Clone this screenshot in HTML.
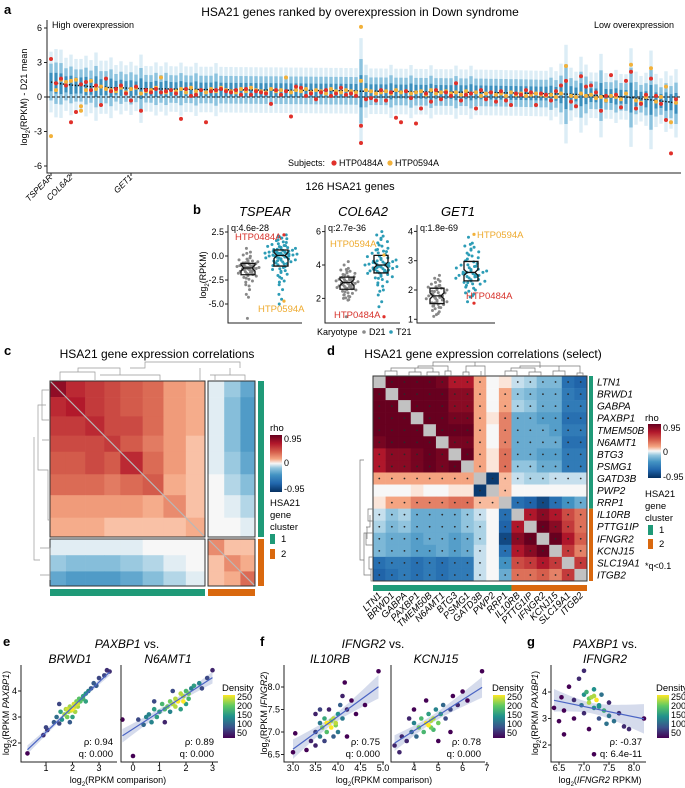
<!DOCTYPE html>
<html><head><meta charset="utf-8">
<style>
html,body{margin:0;padding:0;background:#fff;}
svg{display:block;font-family:"Liberation Sans",sans-serif;}
.it{font-style:italic}
</style></head>
<body>
<svg id="fig" width="685" height="788" viewBox="0 0 685 788" xmlns="http://www.w3.org/2000/svg">
<defs>
<linearGradient id="rdbu" x1="0" y1="0" x2="0" y2="1">
<stop offset="0" stop-color="#67001f"/><stop offset="0.15" stop-color="#b2182b"/><stop offset="0.3" stop-color="#d6604d"/><stop offset="0.42" stop-color="#f4a582"/><stop offset="0.5" stop-color="#f7f7f7"/><stop offset="0.58" stop-color="#92c5de"/><stop offset="0.7" stop-color="#4393c3"/><stop offset="0.85" stop-color="#2166ac"/><stop offset="1" stop-color="#053061"/>
</linearGradient>
<linearGradient id="vir" x1="0" y1="0" x2="0" y2="1">
<stop offset="0" stop-color="#fde725"/><stop offset="0.25" stop-color="#5ec962"/><stop offset="0.5" stop-color="#21918c"/><stop offset="0.75" stop-color="#3b528b"/><stop offset="1" stop-color="#440154"/>
</linearGradient>
<clipPath id="clipA"><rect x="47" y="20" width="634" height="153"/></clipPath>
</defs>

<!-- Panel a -->
<g>
<text x="4" y="14" font-size="13" font-weight="bold">a</text>
<text x="360" y="16" font-size="12" text-anchor="middle">HSA21 genes ranked by overexpression in Down syndrome</text>
<text x="52" y="28" font-size="9">High overexpression</text>
<text x="674" y="28" font-size="9" text-anchor="end">Low overexpression</text>
<text transform="translate(27,97) rotate(-90)" font-size="9" text-anchor="middle">log<tspan baseline-shift="sub" font-size="6">2</tspan>(RPKM) - D21 mean</text>
<g id="a-marks" clip-path="url(#clipA)"></g>
<g id="a-axes"></g>
<text x="288" y="166" font-size="9">Subjects:</text>
<circle cx="334" cy="163" r="2.6" fill="#e0302a"/>
<text x="339" y="166" font-size="9">HTP0484A</text>
<circle cx="390" cy="163" r="2.6" fill="#f2b13a"/>
<text x="395" y="166" font-size="9">HTP0594A</text>
<text x="350" y="190" font-size="11" text-anchor="middle">126 HSA21 genes</text>
<text transform="translate(53,178) rotate(-45)" font-size="8.5" class="it" text-anchor="end">TSPEAR</text>
<text transform="translate(73,178) rotate(-45)" font-size="8.5" class="it" text-anchor="end">COL6A2</text>
<text transform="translate(133,178) rotate(-45)" font-size="8.5" class="it" text-anchor="end">GET1</text>
</g>

<!-- Panel b -->
<g>
<text x="193" y="214" font-size="13" font-weight="bold">b</text>
<text x="265" y="216" font-size="13" class="it" text-anchor="middle">TSPEAR</text>
<text x="363" y="216" font-size="13" class="it" text-anchor="middle">COL6A2</text>
<text x="458" y="216" font-size="13" class="it" text-anchor="middle">GET1</text>
<text transform="translate(206,275) rotate(-90)" font-size="9" text-anchor="middle">log<tspan baseline-shift="sub" font-size="6">2</tspan>(RPKM)</text>
<g id="b-marks"></g>
<text x="317" y="335" font-size="9">Karyotype</text>
<circle cx="364" cy="332" r="1.8" fill="#8a8a8a"/>
<text x="369" y="335" font-size="9">D21</text>
<circle cx="391" cy="332" r="1.8" fill="#2c9cb6"/>
<text x="396" y="335" font-size="9">T21</text>
</g>

<!-- Panel c -->
<g>
<text x="4" y="355" font-size="13" font-weight="bold">c</text>
<text x="157" y="358" font-size="12" text-anchor="middle">HSA21 gene expression correlations</text>
<g id="c-marks"></g>
<g fill="none" stroke="#999" stroke-width="0.7">
<path d="M60 381V372H95V381M78 372V368H120V375M100 375H160V381M130 368H145V362H240V368M200 368H200V381M230 368V375H245V381M210 375H230M215 375V381"/>
<path d="M50 390H42V420H50M46 405H38V470H46M42 440H50M42 470H48V520H50M34 437H34V560H40M40 548H50V580M40 575H50"/>
</g>
<text x="270" y="431" font-size="9.5">rho</text>
<rect x="270" y="435" width="12" height="57" fill="url(#rdbu)"/>
<text x="284" y="442" font-size="9">0.95</text>
<text x="284" y="466" font-size="9">0</text>
<text x="284" y="492" font-size="9">-0.95</text>
<text x="270" y="506" font-size="9.5">HSA21</text>
<text x="270" y="518" font-size="9.5">gene</text>
<text x="270" y="530" font-size="9.5">cluster</text>
<rect x="270" y="534" width="5" height="10" fill="#1f9a78"/>
<text x="281" y="542" font-size="9.5">1</text>
<rect x="270" y="549" width="5" height="10" fill="#d9680e"/>
<text x="281" y="557" font-size="9.5">2</text>
</g>

<!-- Panel d -->
<g>
<text x="327" y="355" font-size="13" font-weight="bold">d</text>
<text x="483" y="358" font-size="12" text-anchor="middle">HSA21 gene expression correlations (select)</text>
<g id="d-marks"></g>
<g fill="none" stroke="#777" stroke-width="0.7">
<path d="M385 376V371H397V376M391 371V368H415V371M409 376V372H421V376M415 372V371M427 376V372H439V376M433 372V368H403V368M445 376V371H451V376M448 371V366H418V368M433 366V362H475V366M463 376V372H469V376M466 372V366H485V376M481 376V371M475 362H540V368M505 376V371H517V376M529 376V372H541V376M511 371V368H535V372M553 376V371H565V376M577 376V373H583V376M559 371V366H580V373M520 368V366H570"/>
<path d="M373 509H368V521H373M373 533H366V545H373M370 515V527H366M367 527V539M373 557H369V569H373M373 581H371V569M371 575H364V533H366M364 560H360V460H364"/>
</g>
<text x="645" y="421" font-size="9.5">rho</text>
<rect x="648" y="424" width="13" height="54" fill="url(#rdbu)"/>
<text x="663" y="431" font-size="9">0.95</text>
<text x="663" y="455" font-size="9">0</text>
<text x="663" y="480" font-size="9">-0.95</text>
<text x="645" y="497" font-size="9.5">HSA21</text>
<text x="645" y="509" font-size="9.5">gene</text>
<text x="645" y="521" font-size="9.5">cluster</text>
<rect x="648" y="525" width="5" height="10" fill="#1f9a78"/>
<text x="659" y="533" font-size="9.5">1</text>
<rect x="648" y="539" width="5" height="10" fill="#d9680e"/>
<text x="659" y="547" font-size="9.5">2</text>
<text x="645" y="569" font-size="9">*q&lt;0.1</text>
</g>

<!-- Panels e-g -->
<g>
<text x="3" y="646" font-size="13" font-weight="bold">e</text>
<text x="127" y="648" font-size="12" text-anchor="middle"><tspan class="it">PAXBP1</tspan> vs.</text>
<text x="70" y="663" font-size="12" class="it" text-anchor="middle">BRWD1</text>
<text x="168" y="663" font-size="12" class="it" text-anchor="middle">N6AMT1</text>
<text transform="translate(9,713) rotate(-90)" font-size="9" text-anchor="middle">log<tspan baseline-shift="sub" font-size="6">2</tspan>(RPKM <tspan class="it">PAXBP1</tspan>)</text>
<text x="118" y="783" font-size="9" text-anchor="middle">log<tspan baseline-shift="sub" font-size="6">2</tspan>(RPKM comparison)</text>
</g>
<g>
<text x="260" y="646" font-size="13" font-weight="bold">f</text>
<text x="373" y="648" font-size="12" text-anchor="middle"><tspan class="it">IFNGR2</tspan> vs.</text>
<text x="330" y="663" font-size="12" class="it" text-anchor="middle">IL10RB</text>
<text x="436" y="663" font-size="12" class="it" text-anchor="middle">KCNJ15</text>
<text transform="translate(267,713) rotate(-90)" font-size="9" text-anchor="middle">log<tspan baseline-shift="sub" font-size="6">2</tspan>(RPKM <tspan class="it">IFNGR2</tspan>)</text>
<text x="384" y="783" font-size="9" text-anchor="middle">log<tspan baseline-shift="sub" font-size="6">2</tspan>(RPKM comparison)</text>
</g>
<g>
<text x="527" y="646" font-size="13" font-weight="bold">g</text>
<text x="605" y="648" font-size="12" text-anchor="middle"><tspan class="it">PAXBP1</tspan> vs.</text>
<text x="605" y="663" font-size="12" class="it" text-anchor="middle">IFNGR2</text>
<text transform="translate(538,713) rotate(-90)" font-size="9" text-anchor="middle">log<tspan baseline-shift="sub" font-size="6">2</tspan>(RPKM <tspan class="it">PAXBP1</tspan>)</text>
<text x="600" y="783" font-size="9" text-anchor="middle">log<tspan baseline-shift="sub" font-size="6">2</tspan>(<tspan class="it">IFNGR2</tspan> RPKM)</text>
</g>
<g id="efg-marks"></g>
</svg>

<script>
// ---------- Panel a data ----------
const geneMedian = [1.3,1.2,1.15,1.1,1.05,1.0,1.0,0.95,0.9,0.9,
.85,.85,.8,.8,.8,.78,.75,.75,.72,.72,.7,.7,.7,.7,.7,.68,.68,.68,.66,.66,
.65,.65,.65,.64,.64,.63,.63,.62,.62,.62,.61,.61,.6,.6,.6,.6,.59,.59,.58,.58,
.58,.57,.57,.56,.56,.56,.55,.55,.55,.54,.54,.53,.5,.5,.5,.5,.5,.49,.49,.48,
.48,.47,.47,.46,.46,.45,.45,.44,.44,.43,.43,.42,.42,.41,.41,.4,.4,.39,.38,.38,
.37,.36,.35,.35,.34,.33,.32,.31,.3,.3,.28,.27,.26,.25,.24,.22,.2,.18,.16,.14,
.12,.1,.08,.05,.02,0,-.05,-.1,-.15,-.2,-.25,-.3,-.35,-.4,-.45,-.55];
const geneSpread = [.8,.9,.9,.7,.8,.7,.7,.8,.7,.9,.7,.7,.8,.6,.7,.6,.7,.6,.9,.6,
.6,.7,.6,.7,.6,.6,.7,.6,.6,.7,.6,.6,.6,.7,.6,.6,.6,.6,.6,.6,.6,.6,.6,.6,.6,.6,.6,.6,.6,.6,
.6,.6,.6,.6,.6,.6,.6,.6,.6,.6,.6,.6,1.4,.7,.6,.6,.6,.6,.7,.6,.6,.6,.7,.6,.6,.6,.7,.6,.6,.6,
.6,.7,.6,.6,.7,.6,.6,.6,.6,.6,.6,.6,.6,.6,.6,.6,.6,.6,.6,.6,.7,.6,.8,1.3,.7,.6,1.0,.8,.6,.6,
1.1,.6,.6,.7,.6,.6,1.3,.7,.6,.7,1.3,.7,.6,.8,.7,.9];
const subjRed = [3.3,1.2,1.6,1.0,-2.2,-1.3,1.1,1.3,0.6,1.0,-0.7,1.6,0.5,0.7,1.0,0.3,-0.3,0.9,-1.2,0.6,
0.4,0.7,0.4,0.5,0.6,0.3,-1.9,0.7,0.1,0.2,0.6,-2.2,0.5,0.6,0.7,0.5,0.4,0.6,0.2,0.7,
0.2,0.5,0.4,0.3,-0.6,0.6,0.2,0.5,-1.7,0.9,0.8,0.1,0.3,-0.2,0.4,0.6,0.1,0.3,0.8,0.2,
0.3,0.1,-2.5,-0.2,-0.1,-0.3,0.6,-0.3,0.4,-1.8,-2.2,0.5,-0.1,-2.3,-1.0,0.3,-0.4,0.6,-0.2,0.4,
0.1,1.2,-0.3,0.2,0.3,-1.0,0.6,-0.2,0.4,-0.4,0.5,-0.3,-0.7,0.3,0.2,0.6,0.4,-0.7,0.3,0.2,
-0.3,0.5,1.0,1.4,-0.4,-0.8,1.8,0.9,1.0,0.4,-1.2,0.1,1.9,0.2,-0.9,1.4,2.2,-1.0,-0.6,0.2,
1.6,0.1,-0.6,-2.0,-4.9,-0.2];
const subjYellow = [-3.4,0.6,1.5,1.3,1.4,1.5,-1.2,0.6,1.4,0.7,0.9,0.7,0.6,0.5,0.8,0.4,0.7,0.8,0.3,0.5,
0.6,0.8,1.7,0.4,0.6,0.5,0.7,0.4,0.8,0.5,0.6,0.4,0.7,0.5,0.8,0.6,0.5,0.4,0.7,0.5,
0.8,0.6,0.5,0.4,0.7,0.5,0.6,1.7,0.4,0.6,0.5,0.7,0.4,0.6,0.5,0.3,0.7,0.5,0.4,0.6,
0.5,0.4,6.1,0.6,0.5,0.3,0.4,0.5,0.3,0.6,0.4,0.5,0.3,0.4,0.5,0.2,0.6,0.3,0.4,0.5,
0.3,0.4,0.2,0.5,0.3,0.4,0.1,0.3,0.4,0.2,0.3,0.1,0.4,0.2,0.3,0.1,0.2,0.3,0.2,0.1,
0.2,0.0,0.3,2.7,0.1,0.0,0.3,0.1,0.2,-0.1,0.0,-0.3,0.1,0.0,-0.2,0.3,2.8,-0.3,-0.5,0.0,
2.5,-0.4,0.0,0.9,-2.2,-0.5];
const extraRedIdx = [62]; const extraRedVal = [-4.0];
const extraYellowIdx = [62,6]; const extraYellowVal = [1.4,-0.8];
const aTicks = [-6,-3,0,3,6];

// ---------- Panel b data ----------
const tspearD21 = [-6.5,-4.3,-4.0,-3.5,-3.0,-2.6,-2.3,-2.1,-1.9,-1.8,-1.7,-1.6,-1.5,-1.4,-1.3,-1.3,-1.2,-1.2,-1.1,-1.1,-1.0,-1.0,-0.9,-0.8,-0.7,-0.6,-0.5,-0.4,-0.2,0.1,0.4,0.8];
const tspearT21 = [-5.0,-4.5,-4.0,-3.5,-3.0,-2.6,-2.2,-1.9,-1.6,-1.4,-1.2,-1.0,-0.8,-0.7,-0.6,-0.5,-0.4,-0.3,-0.2,-0.1,0,0,0.1,0.1,0.2,0.2,0.3,0.3,0.4,0.4,0.5,0.5,0.6,0.7,0.8,0.9,1.0,1.1,1.2,1.4,1.6,1.8,2.0,2.2];
const col6a2D21 = [0.9,1.9,2.0,2.1,2.2,2.3,2.4,2.5,2.6,2.65,2.7,2.75,2.8,2.85,2.9,2.95,3.0,3.0,3.05,3.1,3.15,3.2,3.25,3.3,3.4,3.5,3.6,3.7,3.8,4.0,4.2];
const col6a2T21 = [1.5,1.8,2.2,2.5,2.8,3.0,3.2,3.3,3.4,3.5,3.6,3.65,3.7,3.75,3.8,3.85,3.9,3.95,4.0,4.0,4.05,4.1,4.15,4.2,4.25,4.3,4.4,4.5,4.6,4.7,4.8,4.9,5.0,5.2,5.4,5.6,5.8,6.0];
const get1D21 = [1.1,1.2,1.3,1.4,1.45,1.5,1.55,1.6,1.65,1.7,1.75,1.8,1.8,1.85,1.9,1.95,2.0,2.05,2.1,2.15,2.2,2.3,2.4,2.5];
const get1T21 = [1.6,1.8,1.9,2.0,2.1,2.2,2.25,2.3,2.35,2.4,2.45,2.5,2.5,2.55,2.6,2.6,2.65,2.7,2.75,2.8,2.85,2.9,3.0,3.1,3.2,3.3,3.4,3.5,3.6,3.8];
const tspearTicks = [2.5,0.0,-2.5,-5.0]; const col6a2Ticks=[6,4,2]; const get1Ticks=[4,3,2,1];
const bQvals = ["q:4.6e-28","q:2.7e-36","q:1.8e-69"];
const bRed = [2.2, 0.9, 1.55]; const bYellow = [-4.7, 4.6, 3.9];

// ---------- Panel c data (block-averaged correlations) ----------
const cBlockSizes = [10,12,12,10,14,13,14,12,10,10,9];
const cBlockRho = [
[.75,.6,.55,.5,.45,.4,.25,.2,-.05,-.2,-.35],
[.6,.65,.55,.5,.45,.4,.25,.2,-.05,-.25,-.4],
[.55,.55,.6,.5,.5,.4,.25,.2,-.05,-.25,-.4],
[.5,.5,.5,.55,.45,.35,.25,.15,-.05,-.25,-.4],
[.45,.45,.5,.45,.6,.4,.25,.15,-.05,-.2,-.35],
[.4,.4,.4,.35,.4,.45,.2,.15,0,-.15,-.25],
[.25,.25,.25,.25,.25,.2,.3,.15,0,-.05,-.15],
[.2,.2,.2,.15,.15,.15,.15,.2,0,0,-.05],
[-.05,-.05,-.05,-.05,-.05,0,0,0,.3,.15,.15],
[-.2,-.25,-.25,-.25,-.2,-.15,-.05,0,.15,.3,.2],
[-.35,-.4,-.4,-.4,-.35,-.25,-.15,-.05,.15,.2,.4]];

// ---------- Panel d data ----------
const dGenes = ["LTN1","BRWD1","GABPA","PAXBP1","TMEM50B","N6AMT1","BTG3","PSMG1","GATD3B","PWP2","RRP1","IL10RB","PTTG1IP","IFNGR2","KCNJ15","SLC19A1","ITGB2"];
const dCluster = [1,1,1,1,1,1,1,1,1,1,1,2,2,2,2,2,2];
const dUpper = [
[.85,.85,.8,.8,.75,.6,.6,.2,0,.05,-.1,-.15,-.25,-.25,-.55,-.6],
[.9,.9,.85,.85,.7,.7,.2,0,.2,-.2,-.25,-.3,-.3,-.5,-.55],
[.9,.85,.85,.7,.7,.2,0,.2,-.15,-.2,-.3,-.3,-.5,-.5],
[.85,.9,.75,.75,.2,.05,.3,-.3,-.3,-.35,-.35,-.55,-.55],
[.85,.8,.8,.2,0,.3,-.3,-.3,-.3,-.35,-.5,-.5],
[.75,.75,.2,0,.3,-.3,-.3,-.3,-.3,-.55,-.55],
[.85,.2,.05,.35,-.3,-.3,-.35,-.35,-.5,-.5],
[.2,.05,.35,-.2,-.2,-.3,-.3,-.5,-.5],
[-.75,.15,-.1,-.15,-.15,-.1,-.1,-.1],
[.15,0,0,0,0,0,0],
[-.55,-.6,-.7,-.55,-.4,-.3],
[.6,.7,.6,.45,.35],
[.8,.7,.5,.35],
[.8,.6,.4],
[.5,.3],
[.5]];

// ---------- Panels e-g data ----------
const eBrwd1 = [[0.3,1.6],[0.9,2.3],[1.0,2.6],[1.05,2.5],[1.3,2.8],[1.4,3.0],[1.5,2.75],[1.55,3.2],[1.6,2.9],[1.7,3.1],[1.75,3.3],[1.8,3.0],[1.85,3.2],[1.9,3.4],[1.95,3.25],[2.0,3.3],[2.05,3.5],[2.1,3.4],[2.15,3.6],[2.2,3.5],[2.25,3.7],[2.3,3.6],[2.4,3.8],[2.5,3.9],[2.6,4.0],[2.7,4.1],[2.8,4.3],[2.9,4.2],[3.0,4.5],[3.2,4.6],[3.3,4.8],[3.4,4.75],[1.5,3.5],[2.0,3.0],[2.5,3.6],[1.9,2.8],[2.2,3.4],[1.8,3.3],[2.4,3.7],[2.1,3.2]];
const eN6amt1 = [[-0.4,2.9],[0.0,1.5],[0.2,2.9],[0.4,2.7],[0.5,3.0],[0.6,3.1],[0.7,2.8],[0.8,3.3],[0.9,3.0],[1.0,3.2],[1.1,3.5],[1.2,3.3],[1.3,3.4],[1.4,3.6],[1.5,3.5],[1.6,3.7],[1.7,3.6],[1.8,3.9],[1.9,3.8],[2.0,4.0],[2.1,3.9],[2.2,4.1],[2.3,4.2],[2.5,4.3],[2.6,4.1],[2.8,4.5],[3.0,4.8],[1.2,2.8],[1.5,4.0],[2.0,3.5],[0.8,3.6],[1.8,3.3],[1.6,3.4],[1.9,3.6],[2.1,3.7],[1.4,3.2]];
const fIl10rb = [[3.0,6.55],[3.05,6.97],[3.3,6.6],[3.4,6.8],[3.5,7.0],[3.5,6.7],[3.6,7.2],[3.6,6.9],[3.65,7.1],[3.7,7.3],[3.7,6.8],[3.75,7.0],[3.8,7.2],[3.8,7.5],[3.85,7.1],[3.9,7.3],[3.9,6.9],[3.95,7.2],[4.0,7.4],[4.0,7.0],[4.05,7.6],[4.1,7.3],[4.1,7.8],[4.15,8.1],[4.2,7.5],[4.3,7.7],[4.4,7.4],[4.6,7.6],[4.9,8.35],[3.6,7.5],[4.2,6.9],[3.5,7.4],[3.85,7.25],[3.95,7.15],[3.75,7.2]];
const fKcnj15 = [[3.2,6.7],[3.4,6.55],[3.5,6.9],[3.7,6.8],[3.9,7.0],[4.0,7.2],[4.1,6.9],[4.2,7.1],[4.3,7.3],[4.4,7.0],[4.5,7.2],[4.6,7.4],[4.7,7.1],[4.8,7.3],[4.9,7.5],[5.0,7.2],[5.1,7.4],[5.2,7.6],[5.3,7.3],[5.5,7.5],[5.6,7.8],[5.8,7.6],[6.0,7.9],[6.2,7.7],[6.8,8.35],[4.5,7.7],[5.0,6.8],[4.0,7.5],[5.5,7.0],[3.8,7.3],[4.7,7.25],[4.8,7.05],[4.6,7.15]];
const gIfngr2 = [[6.4,3.4],[6.5,2.9],[6.55,3.8],[6.6,3.3],[6.7,4.2],[6.8,3.0],[6.8,3.7],[6.9,4.5],[6.95,3.5],[7.0,3.9],[7.0,3.2],[7.05,4.0],[7.1,3.6],[7.1,2.6],[7.15,3.8],[7.2,3.4],[7.2,4.1],[7.25,3.7],[7.3,3.0],[7.3,3.5],[7.35,3.9],[7.4,3.3],[7.45,2.8],[7.5,3.6],[7.5,3.1],[7.6,2.9],[7.7,3.2],[7.8,2.7],[7.9,2.6],[8.2,3.0],[7.2,1.65],[7.0,4.8],[6.6,2.4],[7.1,3.75],[7.2,3.85],[7.3,3.45]];
const rhoLabels = ["ρ: 0.94","ρ: 0.89","ρ: 0.75","ρ: 0.78","ρ: -0.37"];
const qLabels = ["q: 0.000","q: 0.000","q: 0.000","q: 0.000","q: 6.4e-11"];
const densityTicks = [250,200,150,100,50];

// ---------- helpers ----------
const NS='http://www.w3.org/2000/svg';
function mk(tag,attrs,parent){const e=document.createElementNS(NS,tag);for(const k in attrs)e.setAttribute(k,attrs[k]);parent.appendChild(e);return e;}
function hex(h){return [parseInt(h.slice(1,3),16),parseInt(h.slice(3,5),16),parseInt(h.slice(5,7),16)];}
function interp(stops,cols,v){
  if(v<=stops[0])return cols[0]; if(v>=stops[stops.length-1])return cols[cols.length-1];
  for(let i=0;i<stops.length-1;i++){if(v<=stops[i+1]){const t=(v-stops[i])/(stops[i+1]-stops[i]);const a=hex(cols[i]),b=hex(cols[i+1]);return 'rgb('+a.map((x,k)=>Math.round(x+(b[k]-x)*t)).join(',')+')';}}
}
const rdStops=[-1,-.75,-.5,-.25,-.1,0,.1,.25,.5,.75,1];
const rdCols=['#053061','#2166ac','#4393c3','#92c5de','#d1e5f0','#f7f7f7','#fddbc7','#f4a582','#d6604d','#b2182b','#67001f'];
const rdbu=v=>interp(rdStops,rdCols,v*1.15);
const viridis=t=>interp([0,.25,.5,.75,1],['#440154','#3b528b','#21918c','#5ec962','#fde725'],t);

// ---------- Panel a ----------
(function(){
  const g=document.getElementById('a-marks'), axg=document.getElementById('a-axes');
  const ax=i=>51+i*5.0, ay=v=>97-v*11.5;
  for(let i=0;i<geneMedian.length;i++){
    const m=geneMedian[i], s=geneSpread[i], x=ax(i);
    const t=mk('rect',{x:x-1.7,y:ay(m+3.3*s),width:3.4,height:ay(m-3.3*s)-ay(m+3.3*s),fill:'#d6eaf5',opacity:0.85},g);
    
    
    const mid=mk('rect',{x:x-1.7,y:ay(m+2*s),width:3.4,height:ay(m-2*s)-ay(m+2*s),fill:'#8cc3df'},g);
    
    
    const c=mk('rect',{x:x-1.5,y:ay(m+s),width:3,height:ay(m-s)-ay(m+s),fill:'#3b8fbd'},g);
    
    
  }
  const z=mk('line',{x1:47,x2:681,y1:ay(0),y2:ay(0),stroke:'#111','stroke-width':1,'stroke-dasharray':'3,2'},g);
  
  
  const med=mk('polyline',{points:geneMedian.map((m,i)=>ax(i)+','+ay(m)).join(' '),fill:'none',stroke:'#111','stroke-width':1.4,'stroke-dasharray':'1.4,1.6'},g);
  
  
  function dot(i,v,col,name){const d=mk('circle',{cx:ax(i),cy:ay(v),r:2,fill:col},g);
    
    }
  subjYellow.forEach((v,i)=>dot(i,v,'#f2b13a','htp0594a-point'));
  extraYellowIdx.forEach((i,k)=>dot(i,extraYellowVal[k],'#f2b13a','htp0594a-point'));
  subjRed.forEach((v,i)=>dot(i,v,'#e0302a','htp0484a-point'));
  extraRedIdx.forEach((i,k)=>dot(i,extraRedVal[k],'#e0302a','htp0484a-point'));
  const ya=mk('path',{d:'M47 20V173H681',fill:'none',stroke:'#222','stroke-width':1},axg);
  
  
  aTicks.forEach(v=>{
    const tk=mk('line',{x1:44,x2:47,y1:ay(v),y2:ay(v),stroke:'#222'},axg);
    
    
    const tl=mk('text',{x:42,y:ay(v)+3,'font-size':9,'text-anchor':'end'},axg);
    tl.textContent=v;
    
    
  });
  [0,4,16].forEach(i=>{const tk=mk('line',{x1:ax(i),x2:ax(i),y1:173,y2:176,stroke:'#222'},axg);
    
    });
})();

// ---------- Panel b ----------
(function(){
  const g=document.getElementById('b-marks');
  const panels=[
    {x0:228,x1:302,y:v=>256-v*9.6,ticks:tspearTicks,d:tspearD21,t:tspearT21,dc:248,tc:281,fmt:v=>v.toFixed(1),redLab:[235,240],yelLab:[258,312]},
    {x0:325,x1:400,y:v=>265-(v-4)*16.7,ticks:col6a2Ticks,d:col6a2D21,t:col6a2T21,dc:347,tc:381,fmt:v=>String(v),redLab:[334,318],yelLab:[330,247]},
    {x0:417,x1:495,y:v=>290-(v-2)*29.3,ticks:get1Ticks,d:get1D21,t:get1T21,dc:437,tc:471,fmt:v=>String(v),redLab:[466,299],yelLab:[477,238]}];
  function quant(a,q){const s=[...a].sort((x,y)=>x-y);const p=(s.length-1)*q,lo=Math.floor(p);return s[lo]+(s[Math.min(lo+1,s.length-1)]-s[lo])*(p-lo);}
  function swarm(vals,cx,yf,col,maxw,p){
    const s=[...vals].sort((a,b)=>a-b);
    const bw=(s[s.length-1]-s[0])/8||1;
    const dens=v=>s.reduce((acc,u)=>acc+Math.exp(-0.5*((u-v)/bw)**2),0);
    let dmax=0; s.forEach(v=>dmax=Math.max(dmax,dens(v)));
    s.forEach((v,k)=>{
      const w=maxw*dens(v)/dmax; const off=((k*5)%9-4)/4*w;
      const c=mk('circle',{cx:cx+off,cy:yf(v),r:1.5,fill:col},g);
      
      
      if(w>4){const c2=mk('circle',{cx:cx-off*0.5,cy:yf(v)+1.2,r:1.5,fill:col},g);
        
        }
    });
  }
  function box(vals,cx,yf){
    const q1=yf(quant(vals,.25)),q2=yf(quant(vals,.5)),q3=yf(quant(vals,.75)),w=7,n=3;
    const b=mk('path',{d:`M${cx-w} ${q3}H${cx+w}V${q2-n}L${cx+w-3} ${q2}L${cx+w} ${q2+n}V${q1}H${cx-w}V${q2+n}L${cx-w+3} ${q2}L${cx-w} ${q2-n}Z M${cx-w+3} ${q2}H${cx+w-3}`,fill:'none',stroke:'#111','stroke-width':1.3},g);
    
    
  }
  panels.forEach((p,pi)=>{
    swarm(p.d,p.dc,p.y,'#888',11,p);
    swarm(p.t,p.tc,p.y,'#2c9cb6',16,p);
    box(p.d,p.dc,p.y); box(p.t,p.tc,p.y);
    const a=mk('path',{d:`M${p.x0} 225V323H${p.x1}`,fill:'none',stroke:'#222'},g);
    
    
    p.ticks.forEach(v=>{
      const tk=mk('line',{x1:p.x0-3,x2:p.x0,y1:p.y(v),y2:p.y(v),stroke:'#222'},g);
      
      
      const tl=mk('text',{x:p.x0-4,y:p.y(v)+3,'font-size':9,'text-anchor':'end'},g);
      tl.textContent=p.fmt(v);
      
      
    });
    const q=mk('text',{x:p.x0+3,y:231,'font-size':9},g); q.textContent=bQvals[pi];
    
    
    const r=mk('circle',{cx:p.tc+3,cy:p.y(bRed[pi]),r:1.6,fill:'#e0302a'},g);
    
    
    const yv=mk('circle',{cx:p.tc+3,cy:p.y(bYellow[pi]),r:1.6,fill:'#f2b13a'},g);
    
    
    const rl=mk('text',{x:p.redLab[0],y:p.redLab[1],'font-size':9.5,fill:'#d7322b'},g); rl.textContent='HTP0484A';
    
    
    const yl=mk('text',{x:p.yelLab[0],y:p.yelLab[1],'font-size':9.5,fill:'#eeaa2e'},g); yl.textContent='HTP0594A';
    
    
  });
})();

// ---------- Panel c ----------
(function(){
  const g=document.getElementById('c-marks');
  const n1=97;
  const pos=(k,isRow)=>{
    if(k<n1) return (isRow?381:50)+k*(isRow?156:155)/n1;
    return (isRow?539:208)+(k-n1)*47/29;
  };
  const starts=[];let acc=0;cBlockSizes.forEach(s=>{starts.push(acc);acc+=s;});
  for(let i=0;i<cBlockSizes.length;i++)for(let j=0;j<cBlockSizes.length;j++){
    const y0=pos(starts[i],true),y1=(starts[i]+cBlockSizes[i]===n1)?537:(starts[i]+cBlockSizes[i]===126?586:pos(starts[i]+cBlockSizes[i],true));
    const x0=pos(starts[j],false),x1=(starts[j]+cBlockSizes[j]===n1)?205:(starts[j]+cBlockSizes[j]===126?255:pos(starts[j]+cBlockSizes[j],false));
    const r=mk('rect',{x:x0,y:y0,width:x1-x0+0.3,height:y1-y0+0.3,fill:rdbu(cBlockRho[i][j])},g);
    
    
  }
  [[50,381,205,537],[208,539,255,586]].forEach(d=>{const l=mk('line',{x1:d[0],y1:d[1],x2:d[2],y2:d[3],stroke:'#b8b8b8','stroke-width':1.2},g);
    
    });
  [[50,381,155,156],[208,381,47,156],[50,539,155,47],[208,539,47,47]].forEach(b=>{
    const r=mk('rect',{x:b[0],y:b[1],width:b[2],height:b[3],fill:'none',stroke:'#333','stroke-width':1},g);
    
    });
  const bars=[[258,381,6,156,'#1f9a78'],[258,539,6,47,'#d9680e'],[50,589,155,7,'#1f9a78'],[208,589,47,7,'#d9680e']];
  bars.forEach(b=>{const r=mk('rect',{x:b[0],y:b[1],width:b[2],height:b[3],fill:b[4]},g);
    
    });
})();

// ---------- Panel d ----------
(function(){
  const g=document.getElementById('d-marks');
  const n=dGenes.length, x0=373, y0=376, cw=(587-373)/n, ch=(581-376)/n;
  const rho=(i,j)=>i===j?null:(i<j?dUpper[i][j-i-1]:dUpper[j][i-j-1]);
  for(let i=0;i<n;i++)for(let j=0;j<n;j++){
    const v=rho(i,j);
    const r=mk('rect',{x:x0+j*cw,y:y0+i*ch,width:cw+0.3,height:ch+0.3,fill:v===null?'#c2c2c2':rdbu(v*1.1)},g);
    
    
    if(v!==null&&Math.abs(v)>=0.1){
      const s=mk('circle',{cx:x0+(j+.5)*cw,cy:y0+(i+.5)*ch,r:0.9,fill:'#2a2a2a'},g);
      
      
    }
  }
  const bd=mk('rect',{x:x0,y:y0,width:587-373,height:581-376,fill:'none',stroke:'#333'},g);
  
  
  const n1=dCluster.filter(c=>c===1).length;
  const bars=[[589,y0,4,n1*ch,'#1f9a78'],[589,y0+n1*ch,4,(n-n1)*ch,'#d9680e'],[x0,585,n1*cw,6,'#1f9a78'],[x0+n1*cw,585,(n-n1)*cw,6,'#d9680e']];
  bars.forEach(b=>{const r=mk('rect',{x:b[0],y:b[1],width:b[2],height:b[3],fill:b[4]},g);
    
    });
  dGenes.forEach((name,i)=>{
    const t=mk('text',{x:597,y:y0+(i+.5)*ch+3.5,'font-size':10,'font-style':'italic'},g); t.textContent=name;
    
    
    const c=mk('text',{transform:`translate(${x0+(i+.5)*cw+3},596) rotate(-45)`,'font-size':9.5,'font-style':'italic','text-anchor':'end'},g); c.textContent=name;
    
    
  });
})();

// ---------- Panels e-g ----------
(function(){
  const g=document.getElementById('efg-marks');
  const panels=[
    {data:eBrwd1,x0:21,x1:117,xs:v=>46+(v-1)*26.5,ys:v=>691-(v-4)*26,xt:[1,2,3],yt:[2,3,4],fx:String,fy:String,ri:0},
    {data:eN6amt1,x0:121,x1:218,xs:v=>133+v*26.5,ys:v=>691-(v-4)*26,xt:[0,1,2,3],yt:[],fx:String,fy:String,ri:1,leg:223},
    {data:fIl10rb,x0:284,x1:384,xs:v=>293+(v-3)*45,ys:v=>687-(v-8)*45,xt:[3,3.5,4,4.5,5],yt:[6.5,7,7.5,8],fx:v=>v.toFixed(1),fy:v=>v.toFixed(1),ri:2},
    {data:fKcnj15,x0:391,x1:485,xs:v=>414+(v-4)*24.3,ys:v=>687-(v-8)*45,xt:[4,5,6,7],yt:[],fx:String,fy:String,ri:3,leg:493},
    {data:gIfngr2,x0:551,x1:646,xs:v=>559+(v-6.5)*50,ys:v=>692-(v-4)*26.5,xt:[6.5,7,7.5,8],yt:[2,3,4],fx:v=>v.toFixed(1),fy:String,ri:4,leg:657}];
  panels.forEach(p=>{
    const d=p.data, n=d.length;
    const mx=d.reduce((a,b)=>a+b[0],0)/n, my=d.reduce((a,b)=>a+b[1],0)/n;
    let sxx=0,sxy=0; d.forEach(([x,y])=>{sxx+=(x-mx)**2;sxy+=(x-mx)*(y-my);});
    const b=sxy/sxx,a=my-b*mx;
    let sse=0; d.forEach(([x,y])=>sse+=(y-a-b*x)**2); const s=Math.sqrt(sse/(n-2));
    const xmin=Math.min(...d.map(q=>q[0])), xmax=Math.max(...d.map(q=>q[0]));
    const up=[],lo=[];
    for(let k=0;k<=20;k++){const x=xmin+(xmax-xmin)*k/20;const se=1.96*s*Math.sqrt(1/n+(x-mx)**2/sxx);
      up.push(p.xs(x)+','+p.ys(a+b*x+se)); lo.unshift(p.xs(x)+','+p.ys(a+b*x-se));}
    const band=mk('polygon',{points:up.concat(lo).join(' '),fill:'#b9c3e0',opacity:0.6},g);
    
    
    const px=d.map(([x,y])=>[p.xs(x),p.ys(y)]);
    const cnt=px.map(([x,y])=>px.filter(([u,v])=>Math.hypot(u-x,v-y)<10).length);
    const cmax=Math.max(...cnt);
    const order=px.map((q,i)=>i).sort((i,j)=>cnt[i]-cnt[j]);
    order.forEach(i=>{const c=mk('circle',{cx:px[i][0],cy:px[i][1],r:2.3,fill:viridis((cnt[i]-1)/(cmax-1))},g);
      
      });
    const ln=mk('line',{x1:p.xs(xmin),y1:p.ys(a+b*xmin),x2:p.xs(xmax),y2:p.ys(a+b*xmax),stroke:'#4a64c4','stroke-width':1.2},g);
    
    
    const ax=mk('path',{d:`M${p.x0} 665V762H${p.x1}`,fill:'none',stroke:'#222'},g);
    
    
    p.xt.forEach(v=>{const t=mk('text',{x:p.xs(v),y:771,'font-size':9,'text-anchor':'middle'},g);t.textContent=p.fx(v);
      
      
      const tk=mk('line',{x1:p.xs(v),x2:p.xs(v),y1:762,y2:765,stroke:'#222'},g);
      
      });
    p.yt.forEach(v=>{const t=mk('text',{x:p.x0-4,y:p.ys(v)+3,'font-size':9,'text-anchor':'end'},g);t.textContent=p.fy(v);
      
      
      const tk=mk('line',{x1:p.x0-3,x2:p.x0,y1:p.ys(v),y2:p.ys(v),stroke:'#222'},g);
      
      });
    const rt=mk('text',{x:p.x1-4,y:745,'font-size':9.5,'text-anchor':'end'},g); rt.textContent=rhoLabels[p.ri];
    
    
    const qt=mk('text',{x:p.x1-4,y:757,'font-size':9.5,'text-anchor':'end'},g); qt.textContent=qLabels[p.ri];
    
    
    if(p.leg){
      const lt=mk('text',{x:p.leg-1,y:691,'font-size':9.5},g); lt.textContent='Density';
      
      
      const gr=mk('rect',{x:p.leg,y:695,width:12,height:43,fill:'url(#vir)'},g);
      
      
      densityTicks.forEach((v,k)=>{const t=mk('text',{x:p.leg+14,y:700+k*9,'font-size':9},g);t.textContent=v;
        
        });
    }
  });
})();
</script>
</body></html>
